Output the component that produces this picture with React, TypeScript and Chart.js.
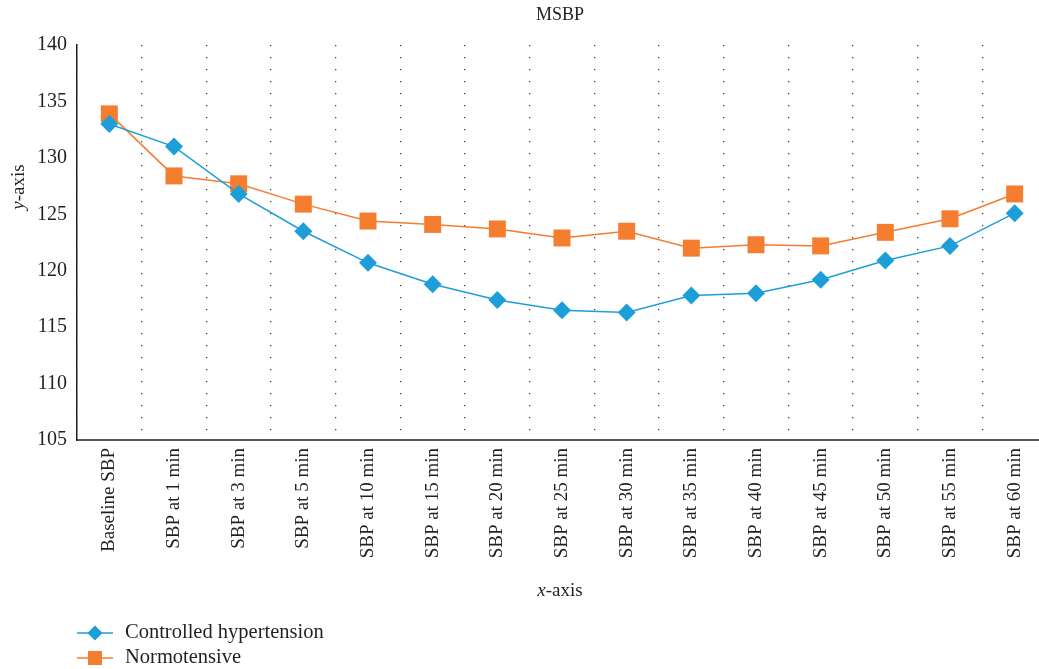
import React, { useEffect, useRef } from "react";
import { Chart, registerables } from "chart.js";

Chart.register(...registerables);

const categories = [
  "Baseline SBP",
  "SBP at 1 min",
  "SBP at 3 min",
  "SBP at 5 min",
  "SBP at 10 min",
  "SBP at 15 min",
  "SBP at 20 min",
  "SBP at 25 min",
  "SBP at 30 min",
  "SBP at 35 min",
  "SBP at 40 min",
  "SBP at 45 min",
  "SBP at 50 min",
  "SBP at 55 min",
  "SBP at 60 min",
];

const controlledHypertension = [
  133.0, 131.0, 126.8, 123.5, 120.7, 118.8, 117.4, 116.5, 116.3, 117.8, 118.0, 119.2, 120.9, 122.2, 125.1,
];

const normotensive = [
  133.9, 128.4, 127.7, 125.9, 124.4, 124.1, 123.7, 122.9, 123.5, 122.0, 122.3, 122.2, 123.4, 124.6, 126.8,
];

const seriesNames = ["Controlled hypertension", "Normotensive"];
const chartTitle = "MSBP";
const yMin = 105;
const yMax = 140;
const yStep = 5;

const BLUE = "#1E9ED8";
const ORANGE = "#F47D30";
const TEXT = "#231F20";
const SERIF = "'Liberation Serif', 'DejaVu Serif', serif";

const annotations = {
  id: "annotations",
  afterDraw(chart: any) {
    const ctx = chart.ctx as CanvasRenderingContext2D;
    const area = chart.chartArea;
    ctx.save();
    ctx.fillStyle = TEXT;
    // Title
    ctx.font = `18px ${SERIF}`;
    ctx.textAlign = "center";
    ctx.textBaseline = "middle";
    ctx.fillText(chartTitle, 560, 15);

    // x-axis title
    const drawAxisTitle = (x: number, y: number) => {
      ctx.font = `italic 19px ${SERIF}`;
      const w1 = ctx.measureText("x").width;
      ctx.font = `19px ${SERIF}`;
      const w2 = ctx.measureText("-axis").width;
      const start = x - (w1 + w2) / 2;
      ctx.textAlign = "left";
      ctx.font = `italic 19px ${SERIF}`;
      ctx.fillText("x", start, y);
      ctx.font = `19px ${SERIF}`;
      ctx.fillText("-axis", start + w1, y);
    };
    drawAxisTitle(560, 591);

    // y-axis title
    ctx.save();
    ctx.translate(19, 187);
    ctx.rotate(-Math.PI / 2);
    ctx.font = `italic 19px ${SERIF}`;
    const wy = ctx.measureText("y").width;
    ctx.font = `19px ${SERIF}`;
    const wr = ctx.measureText("-axis").width;
    const s = -(wy + wr) / 2;
    ctx.textAlign = "left";
    ctx.textBaseline = "middle";
    ctx.font = `italic 19px ${SERIF}`;
    ctx.fillText("y", s, 0);
    ctx.font = `19px ${SERIF}`;
    ctx.fillText("-axis", s + wy, 0);
    ctx.restore();

    // Legend
    const items = [
      { name: seriesNames[0], color: BLUE, style: "diamond", y: 633 },
      { name: seriesNames[1], color: ORANGE, style: "square", y: 658 },
    ];
    items.forEach((it) => {
      ctx.strokeStyle = it.color;
      ctx.lineWidth = 1.5;
      ctx.beginPath();
      ctx.moveTo(77, it.y);
      ctx.lineTo(113, it.y);
      ctx.stroke();
      ctx.fillStyle = it.color;
      ctx.beginPath();
      if (it.style === "diamond") {
        const r = 7.5;
        ctx.moveTo(95, it.y - r);
        ctx.lineTo(95 + r, it.y);
        ctx.lineTo(95, it.y + r);
        ctx.lineTo(95 - r, it.y);
        ctx.closePath();
      } else {
        ctx.rect(95 - 7, it.y - 7, 14, 14);
      }
      ctx.fill();
      ctx.fillStyle = TEXT;
      ctx.font = `20.5px ${SERIF}`;
      ctx.textAlign = "left";
      ctx.textBaseline = "middle";
      ctx.fillText(it.name, 125, it.y);
    });

    // x-axis line across the full width
    ctx.strokeStyle = TEXT;
    ctx.lineWidth = 1.5;
    ctx.beginPath();
    ctx.moveTo(area.left, area.bottom);
    ctx.lineTo(chart.width, area.bottom);
    ctx.stroke();
    ctx.restore();
  },
};

export default function App() {
  const canvasRef = useRef<HTMLCanvasElement | null>(null);

  useEffect(() => {
    const canvas = canvasRef.current;
    if (!canvas) return;
    const chart = new Chart(canvas, {
      type: "line",
      data: {
        labels: categories,
        datasets: [
          {
            label: seriesNames[1],
            data: normotensive,
            borderColor: ORANGE,
            backgroundColor: ORANGE,
            borderWidth: 1.5,
            pointStyle: "rect",
            pointRadius: 12,
            pointHoverRadius: 12,
            pointBorderWidth: 0,
            tension: 0,
            order: 2,
          },
          {
            label: seriesNames[0],
            data: controlledHypertension,
            borderColor: BLUE,
            backgroundColor: BLUE,
            borderWidth: 1.5,
            pointStyle: "rectRot",
            pointRadius: 9,
            pointHoverRadius: 9,
            pointBorderWidth: 0,
            tension: 0,
            order: 1,
          },
        ],
      },
      options: {
        animation: false,
        responsive: false,
        maintainAspectRatio: false,
        layout: { padding: { left: 0, right: 13, top: 45, bottom: 0 } },
        plugins: {
          legend: { display: false },
          title: { display: false },
          tooltip: { enabled: false },
        },
        scales: {
          x: {
            type: "category",
            offset: true,
            grid: {
              display: true,
              offset: true,
              drawTicks: false,
              color: "#444",
              lineWidth: 1.3,
            },
            border: { display: false, dash: [1.3, 10.7] },
            ticks: {
              autoSkip: false,
              minRotation: 90,
              maxRotation: 90,
              padding: 8,
              color: TEXT,
              font: { family: SERIF, size: 19 },
            },
            afterFit(scale: any) {
              scale.height = 669 - 440;
            },
          },
          y: {
            min: yMin,
            max: yMax,
            grid: { display: false, drawTicks: false },
            border: { display: true, color: TEXT, width: 1.5 },
            ticks: {
              stepSize: yStep,
              padding: 10,
              color: TEXT,
              font: { family: SERIF, size: 20 },
            },
            afterFit(scale: any) {
              scale.width = 77;
            },
          },
        },
      },
      plugins: [annotations],
    });
    return () => chart.destroy();
  }, []);

  return (
    <div
      style={{
        position: "fixed",
        left: 0,
        top: 0,
        width: 1039,
        height: 669,
        overflow: "hidden",
        background: "#fff",
      }}
    >
      <canvas ref={canvasRef} width={1060} height={669} style={{ width: 1060, height: 669 }} />
    </div>
  );
}
